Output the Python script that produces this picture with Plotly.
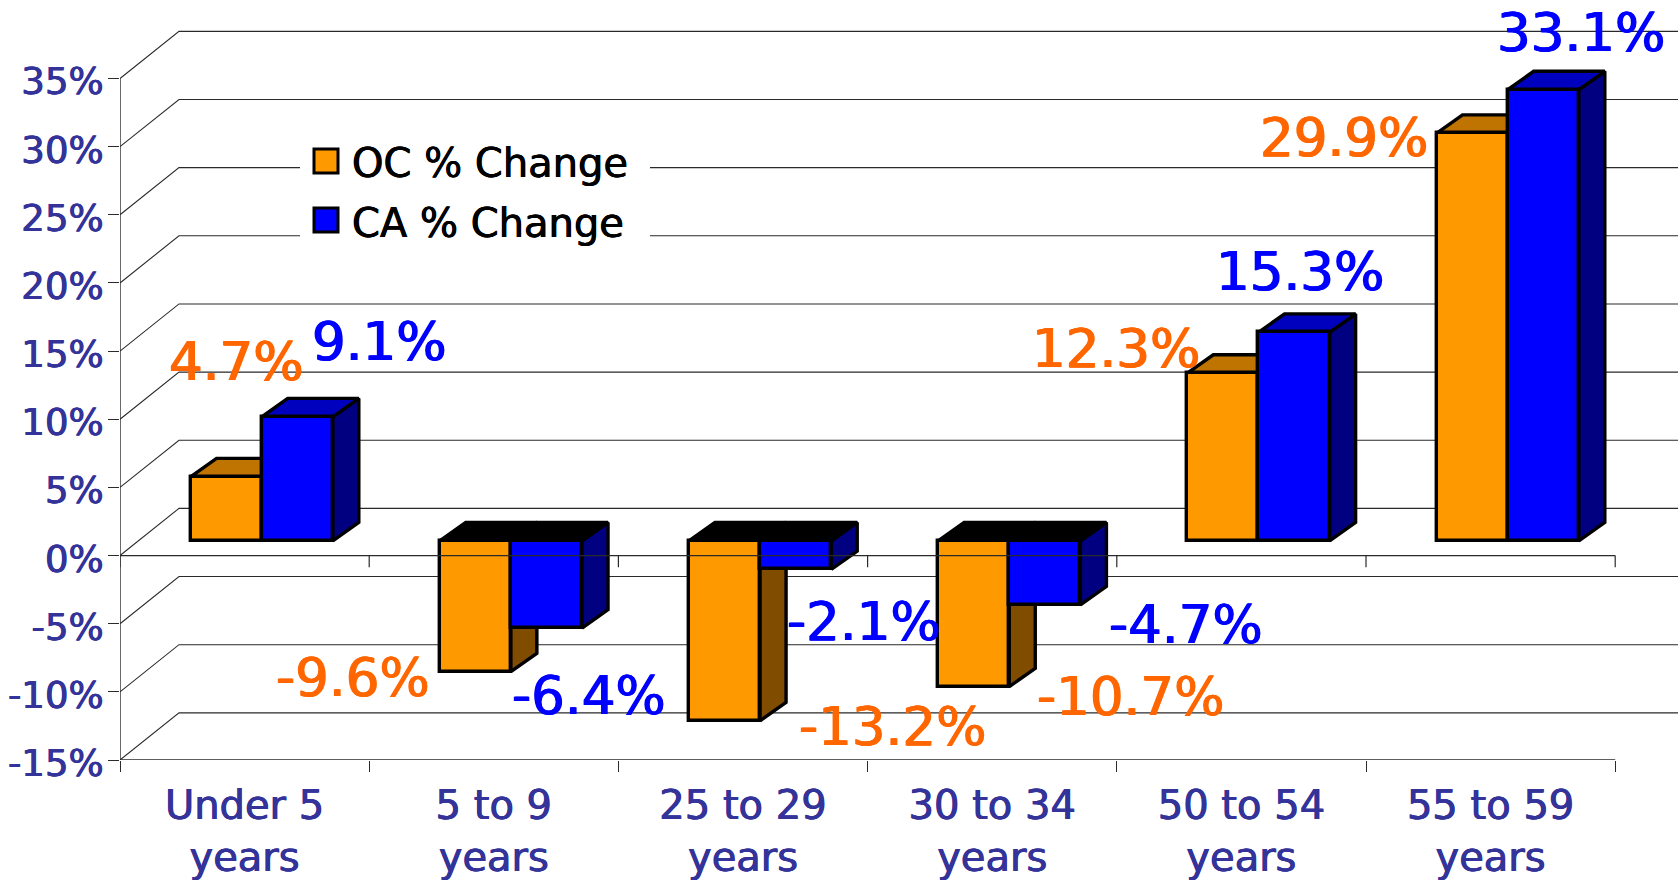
import plotly.graph_objects as go

categories = ["Under 5<br>years", "5 to 9<br>years", "25 to 29<br>years",
              "30 to 34<br>years", "50 to 54<br>years", "55 to 59<br>years"]
oc_change = [4.7, -9.6, -13.2, -10.7, 12.3, 29.9]
ca_change = [9.1, -6.4, -2.1, -4.7, 15.3, 33.1]
y_ticks = [-15, -10, -5, 0, 5, 10, 15, 20, 25, 30, 35]

W, H = 1678, 882
ML, MB = 120, 122
CAT_PX = 249.2
PCT_PX = 13.63
XMAX = (W - ML) / CAT_PX
YMIN = -15
YMAX = YMIN + (H - MB) / PCT_PX


def x_at(px):
    return (px - ML) / CAT_PX


def y_at(py):
    return YMIN + (H - MB - py) / PCT_PX


def heavy(color, amount=0.6):
    return f"{amount}px 0 0 {color}, -{amount}px 0 0 {color}"


GROUP_LEFT = 0.283
BAR_W = 0.2855
BASE = 1.08            # bars stand slightly forward of the front plane
BAR_DX, BAR_DY = 26 / CAT_PX, 18.4 / PCT_PX
WALL_DX, WALL_DY = 59 / CAT_PX, 3.46

INK = "#2a2a2a"
TEXT_BLUE = "#333399"
STYLE = {
    "oc": dict(front="#FF9900", top="#BF7300", side="#7F4C00", label="#FF6600"),
    "ca": dict(front="#0000FF", top="#0000BF", side="#000080", label="#0000FF"),
}

fig = go.Figure()

# walls: diagonal + back gridline for each tick
gx, gy = [], []
for t in y_ticks:
    gx += [0, WALL_DX, XMAX, None]
    gy += [t, t + WALL_DY, t + WALL_DY, None]
fig.add_trace(go.Scatter(x=gx, y=gy, mode="lines", line=dict(color=INK, width=1.1),
                         showlegend=False, hoverinfo="skip"))

# front frame: value axis line and floor line at -15
fx, fy = [0, 0, None, 0, 6, None], [35, -15, None, -15, -15, None]
fig.add_trace(go.Scatter(x=fx, y=fy, mode="lines", line=dict(color=INK, width=1.4),
                         showlegend=False, hoverinfo="skip"))


def poly(xs, ys, color):
    fig.add_trace(go.Scatter(x=xs + xs[:1], y=ys + ys[:1], mode="lines", fill="toself",
                             fillcolor=color, line=dict(color="black", width=3.4),
                             showlegend=False, hoverinfo="skip"))


# depth faces, behind the front faces on the overlay axes
for key, values, slot in (("oc", oc_change, 0), ("ca", ca_change, 1)):
    s = STYLE[key]
    for i, v in enumerate(values):
        left = i + GROUP_LEFT + slot * BAR_W
        right = left + BAR_W
        high = BASE + max(v, 0)
        low = BASE + min(v, 0)
        poly([right, right + BAR_DX, right + BAR_DX, right],
             [low, low + BAR_DY, high + BAR_DY, high], s["side"])
        poly([left, left + BAR_DX, right + BAR_DX, right],
             [high, high + BAR_DY, high + BAR_DY, high],
             s["top"] if v > 0 else "black")

# front faces
for key, name, values, slot in (("oc", "OC % Change", oc_change, 0),
                                ("ca", "CA % Change", ca_change, 1)):
    fig.add_trace(go.Bar(
        x=[i + GROUP_LEFT + (slot + 0.5) * BAR_W for i in range(6)],
        y=values, base=[BASE] * 6, width=BAR_W, name=name,
        marker=dict(color=STYLE[key]["front"], line=dict(color="black", width=3.4)),
        showlegend=False, xaxis="x2", yaxis="y2",
    ))

# zero plane passes in front of the bars
zx, zy = [0, 6, None], [0, 0, None]
for i in range(0, 7):
    zx += [i, i, None]
    zy += [0, -0.85, None]
fig.add_trace(go.Scatter(x=zx, y=zy, mode="lines", line=dict(color=INK, width=1.2),
                         showlegend=False, hoverinfo="skip", xaxis="x2", yaxis="y2"))

# value labels: pixel nudges from the top of each bar
OC_SHIFT = [(10, 115), (-122, -6), (168, -6), (157, -10), (-107, 25), (-128, -4)]
CA_SHIFT = [(82, 75), (43, -67), (68, -52), (141, -20), (6, 61), (38, 57)]
annotations = []
for key, values, slot, shifts in (("oc", oc_change, 0, OC_SHIFT), ("ca", ca_change, 1, CA_SHIFT)):
    for i, v in enumerate(values):
        c = STYLE[key]["label"]
        annotations.append(dict(
            x=i + GROUP_LEFT + (slot + 0.5) * BAR_W, y=BASE + v, xref="x", yref="y",
            text=f"{v:.1f}%", showarrow=False, xanchor="center", yanchor="middle",
            xshift=shifts[i][0], yshift=shifts[i][1],
            font=dict(family="DejaVu Sans", size=53, color=c, shadow=heavy(c, 0.7)),
        ))

# legend panel
shapes = [dict(type="rect", layer="above", xref="x", yref="y",
               x0=x_at(300), x1=x_at(650), y0=y_at(125), y1=y_at(262),
               fillcolor="white", line=dict(width=0))]
for key, name, top_px, mid_px in (("oc", "OC % Change", 149, 163), ("ca", "CA % Change", 208, 223)):
    shapes.append(dict(type="rect", layer="above", xref="x", yref="y",
                       x0=x_at(314), x1=x_at(338), y0=y_at(top_px), y1=y_at(top_px + 24),
                       fillcolor=STYLE[key]["front"], line=dict(color="black", width=3)))
    annotations.append(dict(x=x_at(350), y=y_at(mid_px), xref="x", yref="y", text=name,
                            showarrow=False, xanchor="left", yanchor="middle",
                            font=dict(family="DejaVu Sans", size=40, color="black",
                                      shadow=heavy("black", 0.4))))

fig.update_layout(
    width=W, height=H, margin=dict(l=ML, r=0, t=0, b=MB, pad=0),
    paper_bgcolor="white", plot_bgcolor="white", barmode="overlay", bargap=0,
    showlegend=False, shapes=shapes, annotations=annotations,
    font=dict(family="DejaVu Sans", color=TEXT_BLUE),
    xaxis=dict(range=[0, XMAX], tickmode="array", tickvals=[i + 0.5 for i in range(6)],
               ticktext=categories, ticks="", showgrid=False, zeroline=False, showline=False,
               automargin=False,
               minor=dict(tickmode="array", tickvals=list(range(7)), ticks="outside",
                          ticklen=11, tickwidth=1.2, tickcolor=INK),
               tickfont=dict(size=40, color=TEXT_BLUE, shadow=heavy(TEXT_BLUE, 0.5)),
               tickangle=0, ticklabelstandoff=18),
    yaxis=dict(range=[YMIN, YMAX], tickmode="array", tickvals=y_ticks,
               ticktext=[f"{t}%" for t in y_ticks], ticks="outside", ticklen=11, tickwidth=1.2,
               tickcolor=INK, showgrid=False, zeroline=False, showline=False, automargin=False,
               tickfont=dict(size=37, color=TEXT_BLUE, shadow=heavy(TEXT_BLUE, 0.5)),
               ticklabelstandoff=-3, ticklabelshift=3),
    xaxis2=dict(range=[0, XMAX], overlaying="x", visible=False, anchor="y2", automargin=False),
    yaxis2=dict(range=[YMIN, YMAX], overlaying="y", visible=False, anchor="x2", automargin=False),
)

fig.write_html("out.html", config=dict(displayModeBar=False),
               post_script="document.body.style.margin='0';document.body.style.overflow='hidden';")
